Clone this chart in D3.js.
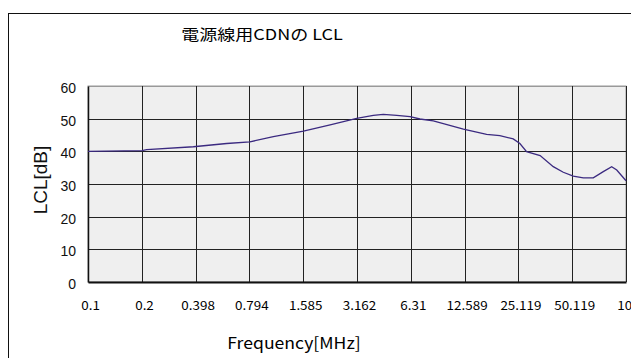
<!DOCTYPE html>
<html>
<head>
<meta charset="utf-8">
<script src="https://cdn.jsdelivr.net/npm/d3@7"></script>
<style>
  html, body { margin: 0; padding: 0; background: #fff; }
  svg { display: block; }
</style>
</head>
<body>
<svg id="chart" width="631" height="358"></svg>
<script>
// Measured LCL of the mains CDN versus frequency
const freqMHz = [0.1, 0.2, 0.2125, 0.387, 0.593, 0.80, 1.08, 1.59, 2.24, 3.15, 3.90, 4.43, 5.27, 6.25, 7.10, 8.42, 12.4, 16.7, 19.8, 23.5, 25.6, 27.9, 33.2, 39.3, 44.7, 50.8, 57.8, 65.7, 74.7, 83.2, 88.8, 100];
const lclDb   = [40.0, 40.2, 40.5, 41.4, 42.4, 42.9, 44.5, 46.2, 48.1, 50.1, 51.0, 51.3, 51.0, 50.6, 49.9, 49.3, 46.8, 45.2, 44.8, 43.8, 42.4, 39.9, 38.7, 35.3, 33.6, 32.4, 31.9, 31.9, 33.8, 35.3, 34.3, 31.0];

// Tick positions (every 0.3 decade) and the labels shown under them
const xTickValues = [0.1, 0.2, 0.398, 0.794, 1.585, 3.162, 6.31, 12.589, 25.119, 50.119, 100];
const xTickLabels = ["0.1", "0.2", "0.398", "0.794", "1.585", "3.162", "6.31", "12.589", "25.119", "50.119", "100"];
const yTickValues = [0, 10, 20, 30, 40, 50, 60];

const titleText = "電源線用CDNの LCL";
const xTitle = "Frequency[MHz]";
const yTitle = "LCL[dB]";

const svg = d3.select("#chart");
const plot = { left: 88, top: 86, right: 626, bottom: 282 };

const x = d3.scaleLog().domain([0.1, 100]).range([plot.left, plot.right]);
const y = d3.scaleLinear().domain([0, 60]).range([plot.bottom, plot.top]);

const jp = "'Noto Sans CJK JP', 'Noto Sans', sans-serif";

// Widen a text element's glyphs horizontally by a factor
function widen(sel, factor) {
  sel.each(function () {
    const w = this.getComputedTextLength();
    d3.select(this)
      .attr("textLength", w * factor)
      .attr("lengthAdjust", "spacingAndGlyphs");
  });
}

// Outer chart frame (runs off the right and bottom edges)
svg.append("rect")
  .attr("x", 8.5).attr("y", 13.5)
  .attr("width", 700).attr("height", 400)
  .attr("fill", "#fff")
  .attr("stroke", "#111").attr("stroke-width", 1);

// Title
svg.append("text")
  .attr("x", 262).attr("y", 40)
  .attr("text-anchor", "middle")
  .attr("font-family", jp)
  .attr("font-size", 15)
  .attr("fill", "#000")
  .text(titleText)
  .call(widen, 1.2);

// Plot background
svg.append("rect")
  .attr("x", plot.left).attr("y", plot.top)
  .attr("width", plot.right - plot.left).attr("height", plot.bottom - plot.top)
  .attr("fill", "#efefef")
  .attr("stroke", "#999").attr("stroke-width", 1);

// Horizontal gridlines
svg.append("g")
  .selectAll("line")
  .data(yTickValues.filter(v => v > 0))
  .join("line")
  .attr("x1", plot.left).attr("x2", plot.right)
  .attr("y1", d => Math.round(y(d)) + 0.5).attr("y2", d => Math.round(y(d)) + 0.5)
  .attr("stroke", d => d === 60 ? "#999" : "#222").attr("stroke-width", 1);

// Vertical gridlines
svg.append("g")
  .selectAll("line")
  .data(xTickValues.slice(1))
  .join("line")
  .attr("x1", d => Math.round(x(d)) + 0.5).attr("x2", d => Math.round(x(d)) + 0.5)
  .attr("y1", plot.top).attr("y2", plot.bottom)
  .attr("stroke", "#222").attr("stroke-width", 1);

// Axes
const xAxis = d3.axisBottom(x)
  .tickValues(xTickValues)
  .tickFormat((d, i) => xTickLabels[i])
  .tickSize(0).tickPadding(19);
const gx = svg.append("g")
  .attr("transform", `translate(0,${plot.bottom})`)
  .call(xAxis);
gx.select(".domain").attr("stroke", "#111").attr("stroke-width", 2);
gx.selectAll("text")
  .attr("x", 2)
  .attr("font-family", jp)
  .attr("font-size", 12)
  .attr("fill", "#000")
  .call(widen, 1.12);

const yAxis = d3.axisLeft(y)
  .tickValues(yTickValues)
  .tickSize(0).tickPadding(12);
const gy = svg.append("g")
  .attr("transform", `translate(${plot.left},0)`)
  .call(yAxis);
gy.select(".domain").attr("stroke", "#111").attr("stroke-width", 1.5);
gy.selectAll("text")
  .attr("y", 2)
  .attr("font-family", "'Liberation Sans', Arial, sans-serif")
  .attr("font-size", 14)
  .attr("fill", "#111");

// Axis titles
svg.append("text")
  .attr("x", 294).attr("y", 349)
  .attr("text-anchor", "middle")
  .attr("font-family", jp)
  .attr("font-size", 16)
  .attr("fill", "#000")
  .text(xTitle)
  .call(widen, 1.1);

svg.append("text")
  .attr("transform", "translate(47,180) rotate(-90)")
  .attr("text-anchor", "middle")
  .attr("font-family", "'Liberation Sans', Arial, sans-serif")
  .attr("font-size", 19)
  .attr("fill", "#111")
  .text(yTitle);

// LCL curve
const line = d3.line()
  .x((d, i) => x(freqMHz[i]))
  .y(d => y(d));

svg.append("path")
  .datum(lclDb)
  .attr("d", line)
  .attr("fill", "none")
  .attr("stroke", "#3b2a80")
  .attr("stroke-width", 1.3);
</script>
</body>
</html>
